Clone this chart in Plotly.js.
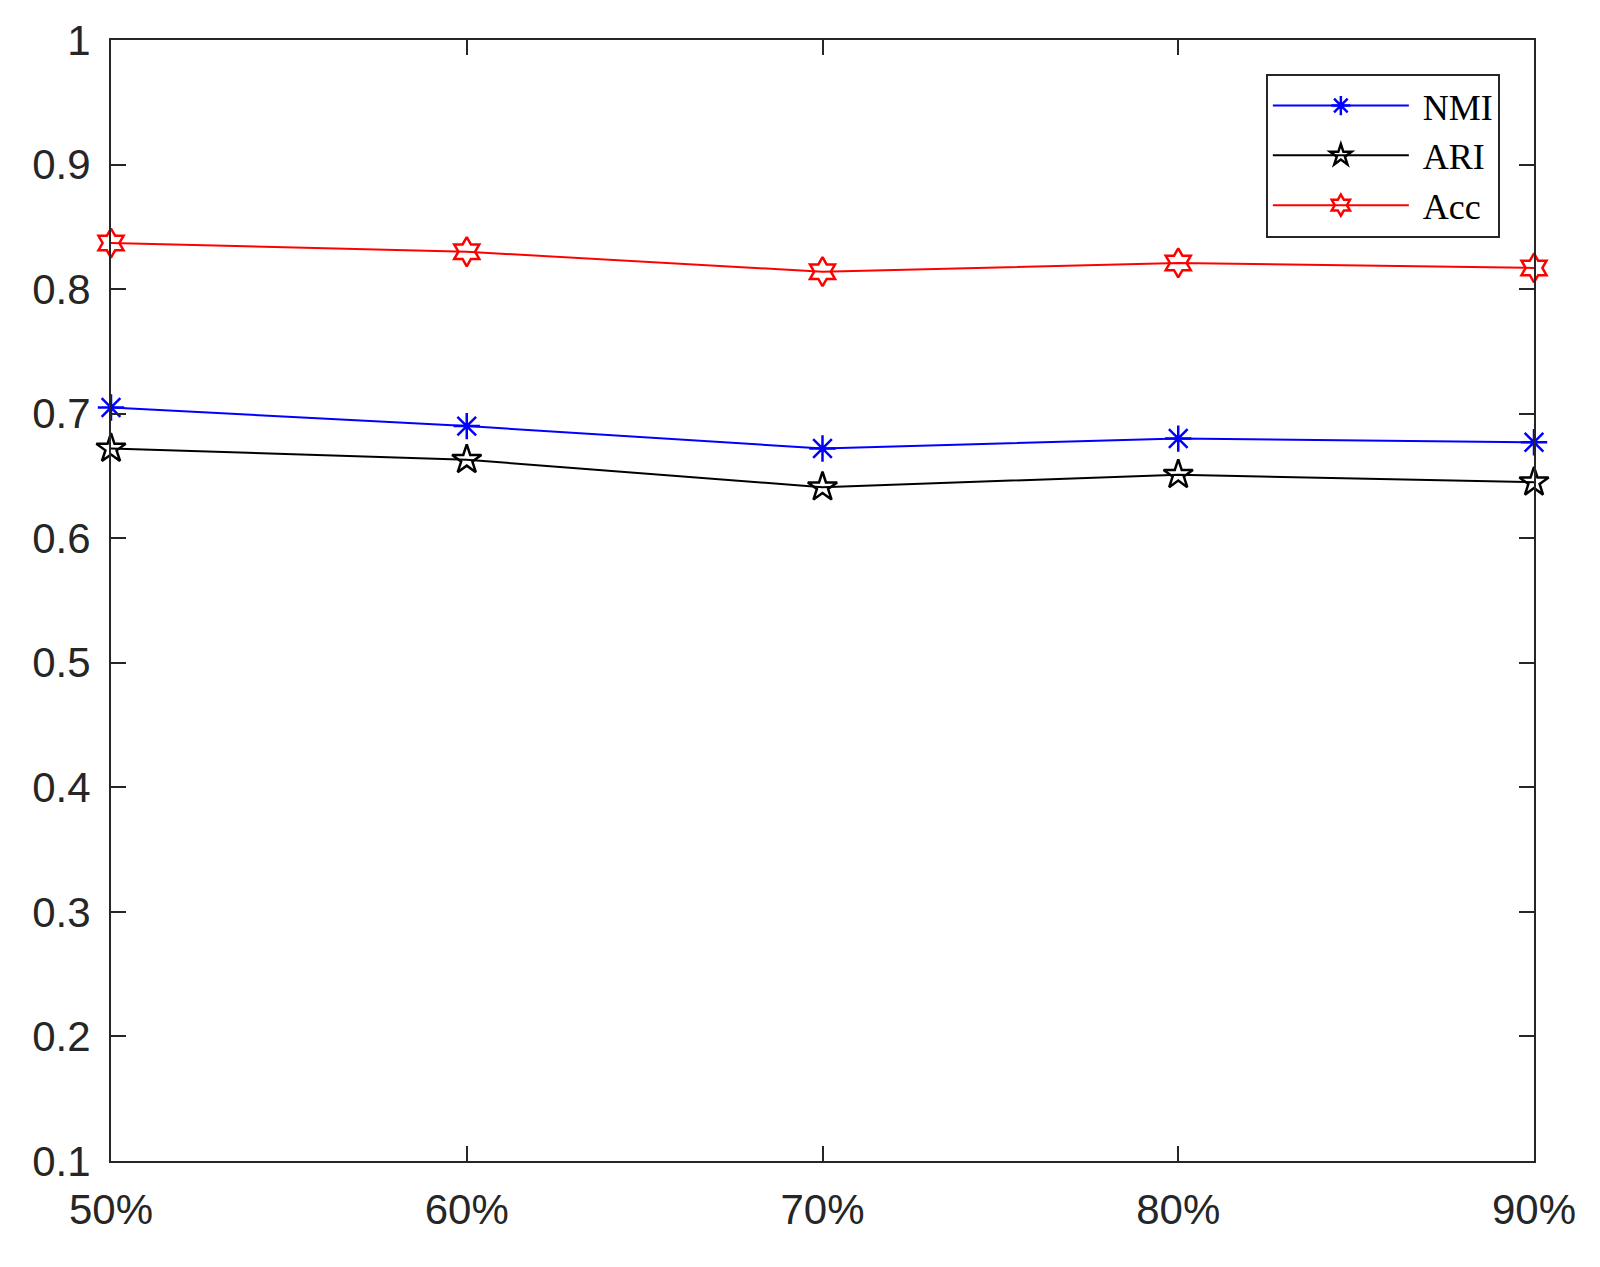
<!DOCTYPE html>
<html>
<head>
<meta charset="utf-8">
<script src="https://cdn.plot.ly/plotly-3.0.1.min.js"></script>
<style>html,body{margin:0;padding:0;background:#fff;}</style>
</head>
<body>
<div id="chart" style="width:1600px;height:1267px;"></div>
<script>
const xValues = [50, 60, 70, 80, 90];
const xTickLabels = ['50%', '60%', '70%', '80%', '90%'];
const nmi = [0.705, 0.690, 0.672, 0.680, 0.677];
const ari = [0.672, 0.663, 0.641, 0.651, 0.645];
const acc = [0.837, 0.830, 0.814, 0.821, 0.817];
const yTicks = [0.1, 0.2, 0.3, 0.4, 0.5, 0.6, 0.7, 0.8, 0.9, 1];
const yTickLabels = ['0.1', '0.2', '0.3', '0.4', '0.5', '0.6', '0.7', '0.8', '0.9', '1'];
const seriesNames = ['NMI', 'ARI', 'Acc'];

function series(name, y, color, symbol) {
  return {
    x: xValues, y: y, name: '\u00a0' + name, type: 'scatter', mode: 'lines+markers',
    line: {color: color, width: 2},
    marker: {symbol: symbol, size: 22, color: color, line: {color: color, width: 2.5}},
    cliponaxis: false
  };
}
const data = [
  series(seriesNames[0], nmi, '#0000ff', 'asterisk-open'),
  series(seriesNames[1], ari, '#000000', 'star-open'),
  series(seriesNames[2], acc, '#ff0000', 'hexagram-open')
];
const axisCommon = {
  showgrid: false, zeroline: false, showline: true, mirror: 'ticks',
  linecolor: '#262626', linewidth: 2, ticks: 'inside', ticklen: 15,
  tickwidth: 2, tickcolor: '#262626',
  tickfont: {family: 'Liberation Sans, Arial, sans-serif', size: 42, color: '#262626'}
};
const layout = {
  width: 1600, height: 1267,
  margin: {l: 111, r: 66, t: 40, b: 106},
  paper_bgcolor: '#fff', plot_bgcolor: '#fff',
  showlegend: true,
  xaxis: Object.assign({}, axisCommon, {
    range: [50, 90], tickvals: xValues, ticktext: xTickLabels, ticklabelstandoff: 11
  }),
  yaxis: Object.assign({}, axisCommon, {
    range: [0.1, 1], tickvals: yTicks, ticktext: yTickLabels, ticklabelstandoff: 10
  }),
  legend: {
    x: 0.976, y: 0.970, xanchor: 'right', yanchor: 'top',
    bgcolor: '#fff', bordercolor: '#262626', borderwidth: 2,
    font: {family: 'Liberation Serif, DejaVu Serif, serif', size: 36, color: '#000'},
    itemwidth: 136, tracegroupgap: 0
  }
};
Plotly.newPlot('chart', data, layout, {displayModeBar: false, staticPlot: true});
</script>
</body>
</html>
